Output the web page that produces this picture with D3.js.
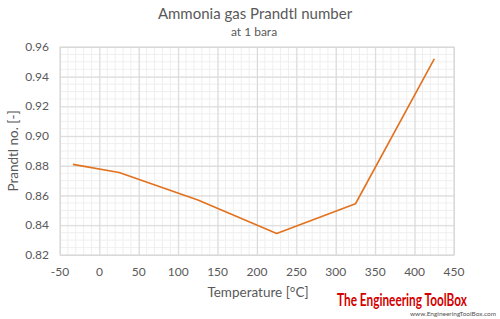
<!DOCTYPE html>
<html>
<head>
<meta charset="utf-8">
<script src="https://cdn.jsdelivr.net/npm/d3@7"></script>
<style>
  body { margin: 0; background: #fff; }
  text { font-family: Lato, "Open Sans", sans-serif; }
</style>
</head>
<body>
<div id="chart"></div>
<script>
// temperature [°C] and Prandtl number at 1 bara
var temps = [-33.6, 25, 125, 225, 325, 425];
var prandtl = [0.881, 0.8755, 0.857, 0.8345, 0.8545, 0.952];
var xTicks = [-50, 0, 50, 100, 150, 200, 250, 300, 350, 400, 450];
var yTicks = [0.82, 0.84, 0.86, 0.88, 0.90, 0.92, 0.94, 0.96];

var W = 500, H = 319;
var margin = {top: 47, right: 46, bottom: 64, left: 60};
var width = W - margin.left - margin.right;
var height = H - margin.top - margin.bottom;

var svg = d3.select("#chart").append("svg")
    .attr("width", W)
    .attr("height", H);

var g = svg.append("g")
    .attr("transform", "translate(" + margin.left + "," + margin.top + ")");

var x = d3.scaleLinear().domain([-50, 450]).range([0, width]);
var y = d3.scaleLinear().domain([0.82, 0.96]).range([height, 0]);

// minor grid
g.append("g").selectAll("line")
    .data(d3.range(-50, 451, 10))
    .enter().append("line")
    .attr("x1", function(d) { return x(d); })
    .attr("x2", function(d) { return x(d); })
    .attr("y1", 0).attr("y2", height)
    .attr("stroke", "#efefef");
g.append("g").selectAll("line")
    .data(d3.range(0, 29).map(function(i) { return 0.82 + i * 0.005; }))
    .enter().append("line")
    .attr("y1", function(d) { return y(d); })
    .attr("y2", function(d) { return y(d); })
    .attr("x1", 0).attr("x2", width)
    .attr("stroke", "#efefef");

// major grid
g.append("g")
    .attr("transform", "translate(0," + height + ")")
    .call(d3.axisBottom(x).tickValues(xTicks).tickSize(-height).tickFormat(""))
    .call(function(s) { s.select(".domain").remove(); })
    .selectAll("line").attr("stroke", "#d9d9d9");
g.append("g")
    .call(d3.axisLeft(y).tickValues(yTicks).tickSize(-width).tickFormat(""))
    .call(function(s) { s.select(".domain").remove(); })
    .selectAll("line").attr("stroke", "#d9d9d9");

g.append("rect")
    .attr("width", width).attr("height", height)
    .attr("fill", "none").attr("stroke", "#d9d9d9");

// tick labels
g.selectAll(".xl")
    .data(xTicks)
    .enter().append("text")
    .attr("x", function(d) { return x(d); })
    .attr("y", height + 21)
    .attr("text-anchor", "middle")
    .attr("font-size", 12)
    .attr("fill", "#595959")
    .text(function(d) { return d; });

g.selectAll(".yl")
    .data(yTicks)
    .enter().append("text")
    .attr("x", -11)
    .attr("y", function(d) { return y(d) + 4; })
    .attr("text-anchor", "end")
    .attr("font-size", 12)
    .attr("fill", "#595959")
    .text(function(d) { return d3.format(".2f")(d); });

// line
var line = d3.line()
    .x(function(d, i) { return x(temps[i]); })
    .y(function(d) { return y(d); });

g.append("path")
    .attr("d", line(prandtl))
    .attr("fill", "none")
    .attr("stroke", "#e2711d")
    .attr("stroke-width", 1.6)
    .attr("stroke-linejoin", "round");

// titles
svg.append("text")
    .attr("x", 255).attr("y", 19)
    .attr("text-anchor", "middle")
    .attr("font-size", 15)
    .attr("fill", "#595959")
    .text("Ammonia gas Prandtl number");
svg.append("text")
    .attr("x", 254).attr("y", 36)
    .attr("text-anchor", "middle")
    .attr("font-size", 12)
    .attr("fill", "#595959")
    .text("at 1 bara");

svg.append("text")
    .attr("x", 258).attr("y", 297)
    .attr("text-anchor", "middle")
    .attr("font-size", 13.5)
    .attr("fill", "#595959")
    .text("Temperature [°C]");

svg.append("text")
    .attr("transform", "translate(18," + (margin.top + height / 2) + ") rotate(-90)")
    .attr("text-anchor", "middle")
    .attr("font-size", 13.5)
    .attr("fill", "#595959")
    .text("Prandtl no. [-]");

// logo
svg.append("text")
    .attr("x", 337).attr("y", 306)
    .attr("font-family", "'Liberation Sans Narrow', 'DejaVu Sans Condensed', sans-serif")
    .attr("font-weight", "bold")
    .attr("font-size", 16.5)
    .attr("fill", "#d40000")
    .attr("textLength", 130)
    .attr("lengthAdjust", "spacingAndGlyphs")
    .text("The Engineering ToolBox");
svg.append("text")
    .attr("x", 496).attr("y", 316)
    .attr("text-anchor", "end")
    .attr("font-family", "'DejaVu Sans', sans-serif")
    .attr("font-size", 6)
    .attr("fill", "#555")
    .attr("textLength", 86)
    .attr("lengthAdjust", "spacingAndGlyphs")
    .text("www.EngineeringToolBox.com");
</script>
</body>
</html>
